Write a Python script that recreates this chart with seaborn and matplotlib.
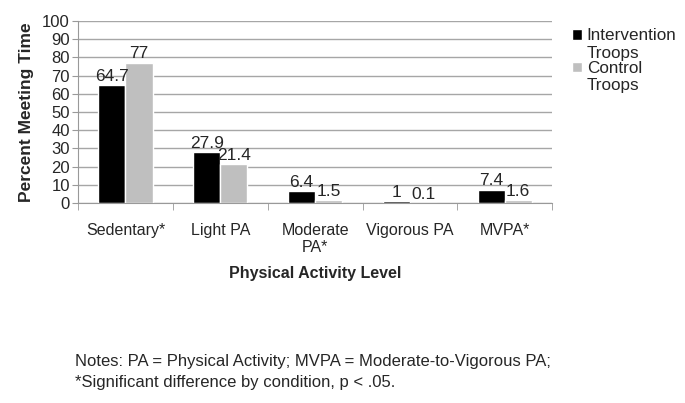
import numpy as np
import pandas as pd
import matplotlib.pyplot as plt
import seaborn as sns
from matplotlib.ticker import FixedLocator

# data
levels = ["Sedentary*", "Light PA", "Moderate\nPA*", "Vigorous PA", "MVPA*"]
intervention = [64.7, 27.9, 6.4, 1.0, 7.4]
control = [77.0, 21.4, 1.5, 0.1, 1.6]
groups = ["Intervention\nTroops", "Control\nTroops"]
value_labels = [["64.7", "27.9", "6.4", "1", "7.4"], ["77", "21.4", "1.5", "0.1", "1.6"]]

df = pd.DataFrame({
    "level": levels * 2,
    "pct": intervention + control,
    "group": [groups[0]] * 5 + [groups[1]] * 5,
})

sns.set_style("white")
plt.rcParams["font.family"] = ["Liberation Sans", "DejaVu Sans"]

fig = plt.figure(figsize=(6.85, 4.03), dpi=100)
ax = fig.add_axes([0.114, 0.496, 0.692, 0.452])

sns.barplot(data=df, x="level", y="pct", hue="group", order=levels,
            hue_order=groups, palette=["#000000", "#bfbfbf"], width=0.57,
            saturation=1, ax=ax, legend=True)

for cont, labs in zip(ax.containers, value_labels):
    ax.bar_label(cont, labels=labs, fontsize=12.5, padding=1)

ax.set_ylim(0, 100)
ax.set_xlim(-0.5, 4.5)
ax.set_yticks(range(0, 101, 10))
ax.yaxis.grid(True, color="#a6a6a6", linewidth=1)
ax.set_axisbelow(True)
for s in ["top", "right"]:
    ax.spines[s].set_visible(False)
for s in ["left", "bottom"]:
    ax.spines[s].set_color("#999999")

ax.tick_params(axis="y", labelsize=12, length=4, color="#999999", left=True, pad=2)
ax.tick_params(axis="x", labelsize=11.5, length=0, pad=14)
ax.xaxis.set_minor_locator(FixedLocator(np.arange(-0.5, 5, 1)))
ax.tick_params(axis="x", which="minor", length=5, color="#999999", bottom=True)

ax.set_xlabel("Physical Activity Level", fontsize=11.5, fontweight="bold", labelpad=8)
ax.set_ylabel("Percent Meeting Time", fontsize=12.5, fontweight="bold", labelpad=6)

leg = ax.legend(loc="upper left", bbox_to_anchor=(1.01, 1.045), frameon=False,
                fontsize=12.3, handlelength=0.55, handleheight=0.55,
                handletextpad=0.3, labelspacing=0.0)
# put the square next to the first line of each label, like Excel does
for h in leg.legend_handles:
    h.set_y(h.get_y() + 7)

fig.text(0.109, 0.032,
         "Notes: PA = Physical Activity; MVPA = Moderate-to-Vigorous PA;\n"
         "*Significant difference by condition, p < .05.",
         fontsize=12, ha="left", va="bottom", linespacing=1.5)

fig.savefig("out.png", dpi=100)
